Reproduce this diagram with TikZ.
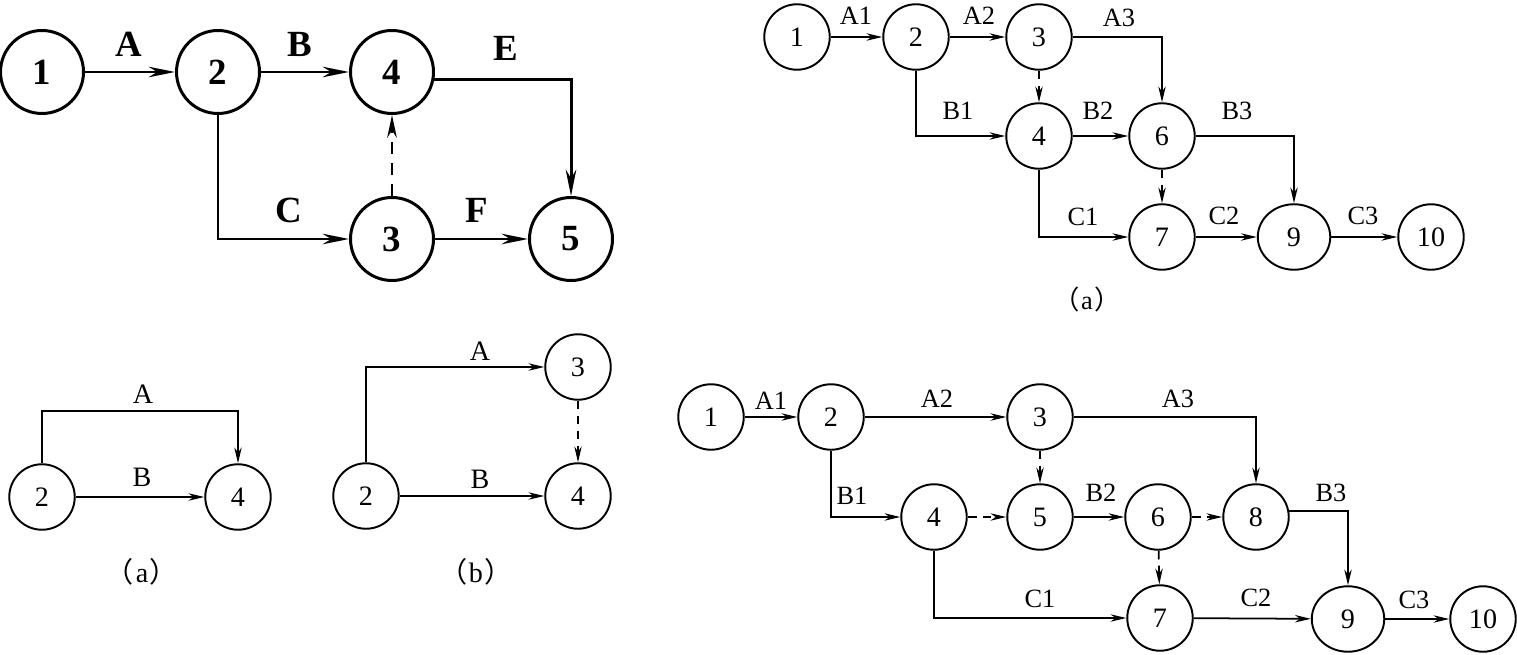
\documentclass[tikz,border=0pt]{standalone}
\usepackage{fontspec}
\setmainfont{Liberation Serif}
\newfontfamily\cjk{Noto Sans CJK SC}
\usetikzlibrary{positioning, arrows.meta, shapes.geometric}

\newcommand{\subcap}[1]{{\cjk （}\kern0.06em#1\kern0.06em{\cjk ）}}

\begin{document}
\begin{tikzpicture}[
  x=0.02cm, y=-0.02cm,
  >={Stealth[length=9pt, width=4.2pt]},
  bignode/.style={circle, draw, line width=1.7pt, minimum size=1.66cm, inner sep=0pt,
                  font=\bfseries\fontsize{21}{21}\selectfont},
  evt/.style={circle, draw, line width=1.1pt, minimum size=1.31cm, inner sep=0pt,
              font=\fontsize{16}{16}\selectfont},
  evtw/.style={evt, ellipse, minimum width=1.45cm, minimum height=1.31cm},
  bigact/.style={-{Stealth[length=15pt, width=6pt]}, line width=1.7pt},
  act/.style={->, line width=1pt},
  dummy/.style={act, dash pattern=on 5pt off 3.5pt},
  bigdummy/.style={-{Stealth[length=13pt, width=5.5pt]}, line width=1.2pt,
                   dash pattern=on 7pt off 5pt},
  biglbl/.style={font=\bfseries\fontsize{21}{21}\selectfont},
  lbl/.style={font=\fontsize{15}{15}\selectfont},
  midlbl/.style={font=\fontsize{16}{16}\selectfont},
]
\useasboundingbox (0,0) rectangle (1517,655);

% --- network, top left ---
\node[bignode] (t1) at (42,72)   {1};
\node[bignode] (t2) at (218,72)  {2};
\node[bignode] (t4) at (392,72)  {4};
\node[bignode] (t3) at (392,239) {3};
\node[bignode] (t5) at (571,239) {5};

\draw[bigact] (t1) -- (t2);
\draw[bigact] (t2) -- (t4);
\draw[bigact] (t2) |- (t3);
\draw[bigact] (t4.-10) -| (t5);
\draw[bigact] (t3) -- (t5);
\draw[bigdummy] (t3) -- (t4);

\node[biglbl] (tA) at (129,44)  {A};
\node[biglbl] (tB) at (300,44)  {B};
\node[biglbl] (tE) at (506,48)  {E};
\node[biglbl] (tC) at (289,210) {C};
\node[biglbl] (tF) at (477,210) {F};

% --- (a) and (b), bottom left ---
\node[evt] (a2) at (42,497)  {2};
\node[evt] (a4) at (238,497) {4};
\coordinate (aTop) at (140,411);
\draw[act] (a2) |- (aTop) -| (a4);
\draw[act] (a2) -- (a4);
\node[midlbl] (aA) at (143,394) {A};
\node[midlbl] (aB) at (142,477) {B};
\node[midlbl] (aCap) at (142,572) {\subcap{a}};

\node[evt] (b2) at (366,496) {2};
\node[evt] (b3) at (578,367) {3};
\node[evt] (b4) at (578,496) {4};
\draw[act] (b2) |- (b3);
\draw[act] (b2) -- (b4);
\draw[dummy] (b3) -- (b4);
\node[midlbl] (bA) at (480,351) {A};
\node[midlbl] (bB) at (480,479) {B};
\node[midlbl] (bCap) at (476,572) {\subcap{b}};

% --- network (a), top right ---
\node[evt]  (r1)  at (797,37)   {1};
\node[evt]  (r2)  at (916,37)   {2};
\node[evt]  (r3)  at (1039,37)  {3};
\node[evt]  (r4)  at (1039,136) {4};
\node[evt]  (r6)  at (1162,136) {6};
\node[evt]  (r7)  at (1162,237) {7};
\node[evtw] (r9)  at (1294,237) {9};
\node[evt]  (r10) at (1431,237) {10};

\draw[act] (r1) -- (r2);
\draw[act] (r2) -- (r3);
\draw[act] (r3) -| (r6);
\draw[act] (r2) |- (r4);
\draw[dummy] (r3) -- (r4);
\draw[act] (r4) -- (r6);
\draw[act] (r6) -| (r9);
\draw[dummy] (r6) -- (r7);
\draw[act] (r4) |- (r7);
\draw[act] (r7) -- (r9);
\draw[act] (r9) -- (r10);

\node[lbl] (rA1) at (856,16)   {A1};
\node[lbl] (rA2) at (979,16)   {A2};
\node[lbl] (rA3) at (1119,18)  {A3};
\node[lbl] (rB1) at (958,111)  {B1};
\node[lbl] (rB2) at (1098,111) {B2};
\node[lbl] (rB3) at (1237,111) {B3};
\node[lbl] (rC1) at (1083,217) {C1};
\node[lbl] (rC2) at (1224,216) {C2};
\node[lbl] (rC3) at (1363,216) {C3};
\node[lbl] (rCap) at (1087,299) {\subcap{a}};

% --- network, bottom right ---
\node[evt]  (s1)  at (711,417)  {1};
\node[evt]  (s2)  at (831,417)  {2};
\node[evt]  (s3)  at (1040,417) {3};
\node[evt]  (s4)  at (934,517)  {4};
\node[evt]  (s5)  at (1040,517) {5};
\node[evt]  (s6)  at (1158,517) {6};
\node[evt]  (s8)  at (1256,517) {8};
\node[evt]  (s7)  at (1160,618) {7};
\node[evtw] (s9)  at (1348,619) {9};
\node[evt]  (s10) at (1483,619) {10};

\draw[act] (s1) -- (s2);
\draw[act] (s2) -- (s3);
\draw[act] (s3) -| (s8);
\draw[dummy] (s3) -- (s5);
\draw[act] (s2) |- (s4);
\draw[dummy] (s4) -- (s5);
\draw[act] (s5) -- (s6);
\draw[dummy] (s6) -- (s8);
\draw[dummy] (s6) -- (s7);
\draw[act] (s8.10) -| (s9);
\draw[act] (s4) |- (s7);
\draw[act] (s7) -- (s9);
\draw[act] (s9) -- (s10);

\node[lbl] (sA1) at (771,401)  {A1};
\node[lbl] (sA2) at (937,399)  {A2};
\node[lbl] (sA3) at (1178,399) {A3};
\node[lbl] (sB1) at (852,496)  {B1};
\node[lbl] (sB2) at (1101,493) {B2};
\node[lbl] (sB3) at (1331,493) {B3};
\node[lbl] (sC1) at (1040,599) {C1};
\node[lbl] (sC2) at (1256,598) {C2};
\node[lbl] (sC3) at (1414,600) {C3};
\end{tikzpicture}
\end{document}
